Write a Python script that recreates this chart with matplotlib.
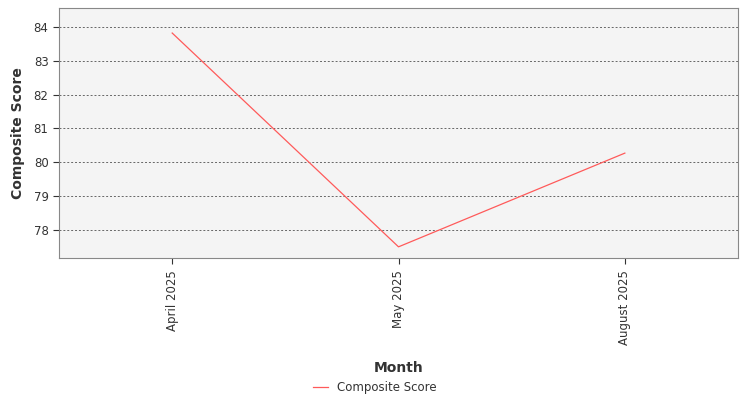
import matplotlib
matplotlib.use("Agg")
import matplotlib.pyplot as plt

months = ["April 2025", "May 2025", "August 2025"]
scores = [83.82, 77.5, 80.27]
yticks = [78, 79, 80, 81, 82, 83, 84]

fig = plt.figure(figsize=(7.5, 4), dpi=100)
ax = fig.add_axes([0.0787, 0.355, 0.984 - 0.0787, 0.98 - 0.355])
ax.set_facecolor("#f4f4f4")
x = list(range(len(months)))
line, = ax.plot(x, scores, color="#ff5a5a", lw=0.9, label="Composite Score")
ax.set_xlim(-0.5, 2.5)
ax.set_ylim(77.17, 84.56)
ax.set_yticks(yticks)
ax.set_xticks(x)
ax.set_xticklabels(months, rotation=90)
ax.tick_params(labelsize=8.5, colors="#333333", length=4)
ax.tick_params(axis="x", pad=5)
ax.grid(axis="y", color="#666666", linestyle=(0, (2, 2)), lw=0.7)
for s in ax.spines.values():
    s.set_color("#888888")
ax.set_xlabel("Month", fontsize=10, fontweight="semibold", color="#333333", labelpad=11)
ax.set_ylabel("Composite Score", fontsize=10, fontweight="semibold", color="#333333", labelpad=6)
fig.legend(handles=[line], loc="center", bbox_to_anchor=(0.5, 0.032), frameon=False,
           fontsize=8.5, handlelength=1.2, labelcolor="#333333")
fig.savefig("out.png", dpi=100)
